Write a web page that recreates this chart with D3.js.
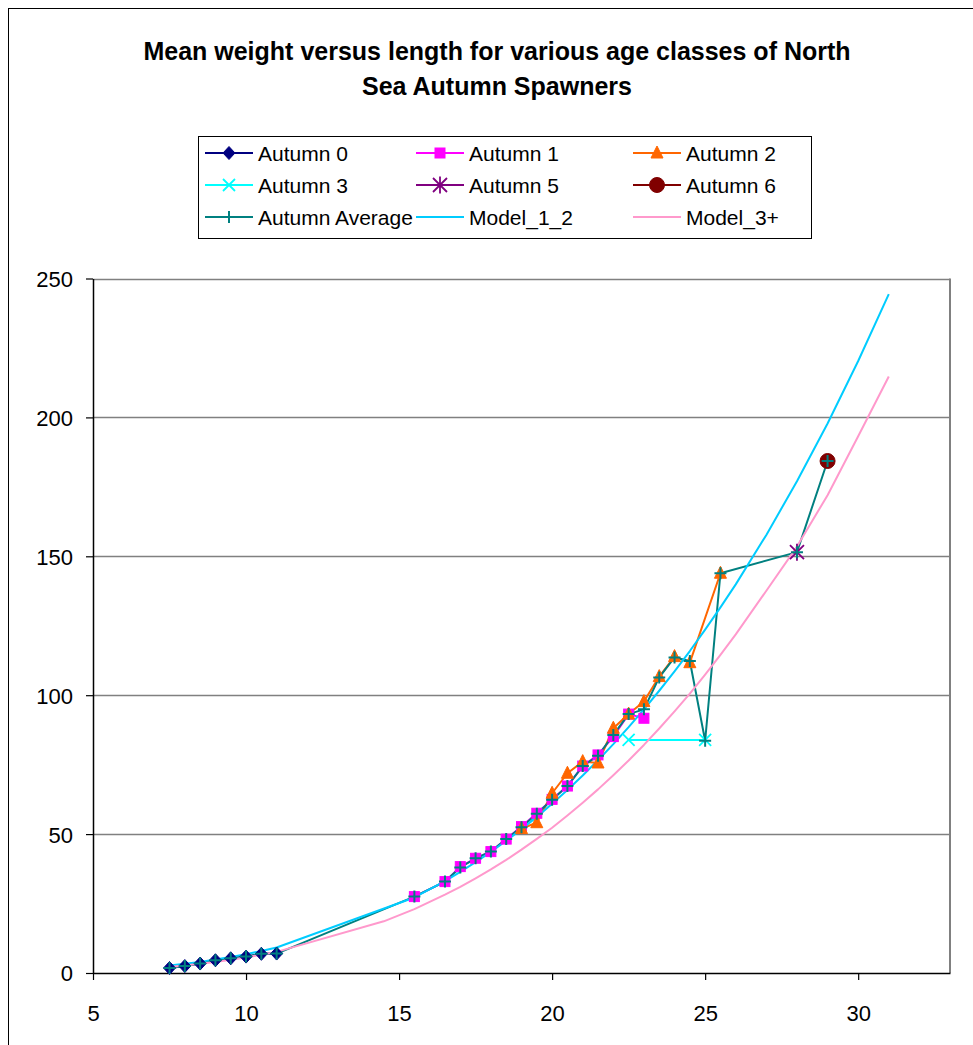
<!DOCTYPE html>
<html>
<head>
<meta charset="utf-8">
<script src="https://cdn.jsdelivr.net/npm/d3@7"></script>
<style>
  body { margin: 0; background: #fff; }
  svg { display: block; font-family: "Liberation Sans", Arial, sans-serif; }
</style>
</head>
<body>
<div id="chart"></div>
<script>
// Chart data (length cm -> mean weight g)
const xTicks = [5, 10, 15, 20, 25, 30];
const yTicks = [0, 50, 100, 150, 200, 250];

const autumn0X = [7.5, 8, 8.5, 9, 9.5, 10, 10.5, 11];
const autumn0Y = [1.8, 2.5, 3.4, 4.6, 5.3, 5.9, 6.9, 7.0];

const autumn1X = [15.5, 16.5, 17, 17.5, 18, 18.5, 19, 19.5, 20, 20.5, 21, 21.5, 22, 22.5, 23];
const autumn1Y = [27.5, 32.9, 38.3, 41.3, 43.7, 48.2, 52.7, 57.5, 62.5, 67.3, 74.5, 78.5, 85.1, 93.2, 91.7];

const autumn2X = [19, 19.5, 20, 20.5, 21, 21.5, 22, 22.5, 23, 23.5, 24, 24.5, 25.5];
const autumn2Y = [52.0, 54.1, 64.7, 71.9, 76.1, 75.6, 88.1, 93.2, 97.7, 106.7, 113.9, 111.7, 143.9];

const autumn3X = [22.5, 25];
const autumn3Y = [83.9, 83.9];

const autumn5X = [28];
const autumn5Y = [151.5];

const autumn6X = [29];
const autumn6Y = [184.3];

const averageX = [7.5, 8, 8.5, 9, 9.5, 10, 10.5, 11, 15.5, 16.5, 17, 17.5, 18, 18.5, 19, 19.5, 20, 20.5, 21, 21.5, 22, 22.5, 23, 23.5, 24, 24.5, 25, 25.5, 28, 29];
const averageY = [1.8, 2.5, 3.4, 4.6, 5.3, 5.9, 6.9, 7.0, 27.5, 32.9, 38.0, 41.3, 43.7, 48.2, 52.5, 57.3, 62.4, 67.3, 74.5, 78.2, 85.7, 93.2, 94.9, 106.4, 113.6, 112.3, 83.6, 143.9, 151.5, 184.3];

const model12X = [7.5, 8, 8.5, 9, 9.5, 10, 10.5, 11, 15.5, 16.5, 17, 17.5, 18, 18.5, 19, 19.5, 20, 20.5, 21, 21.5, 22, 22.5, 23, 23.5, 24, 24.5, 25, 25.5, 26, 27, 28, 29, 30, 31];
const model12Y = [2.7, 3.3, 4.0, 4.9, 5.8, 6.8, 7.9, 9.2, 27.2, 33.1, 36.4, 39.9, 43.6, 47.6, 51.8, 56.2, 60.9, 65.9, 71.1, 76.6, 82.4, 88.5, 94.9, 101.6, 108.6, 115.9, 123.6, 131.6, 139.9, 157.7, 177.0, 197.8, 220.3, 244.4];

const model3X = [7.5, 8, 8.5, 9, 9.5, 10, 10.5, 11, 14.5, 15.5, 16.5, 17, 17.5, 18, 18.5, 19, 19.5, 20, 20.5, 21, 21.5, 22, 22.5, 23, 23.5, 24, 24.5, 25, 25.5, 26, 27, 28, 29, 30, 31];
const model3Y = [2.2, 2.7, 3.3, 4.0, 4.8, 5.6, 6.6, 7.6, 18.6, 23.0, 28.2, 31.0, 34.1, 37.3, 40.7, 44.4, 48.3, 52.3, 56.7, 61.3, 66.1, 71.2, 76.5, 82.1, 88.0, 94.2, 100.6, 107.4, 114.5, 121.9, 137.6, 153.5, 172.0, 193.2, 214.7];

// Series list, drawn in this order
const series = [
  { name: "Autumn 0", xs: autumn0X, ys: autumn0Y, color: "#000080", marker: "diamond" },
  { name: "Autumn 1", xs: autumn1X, ys: autumn1Y, color: "#FF00FF", marker: "square" },
  { name: "Autumn 2", xs: autumn2X, ys: autumn2Y, color: "#FF6600", marker: "triangle" },
  { name: "Autumn 3", xs: autumn3X, ys: autumn3Y, color: "#00FFFF", marker: "cross" },
  { name: "Autumn 5", xs: autumn5X, ys: autumn5Y, color: "#800080", marker: "star" },
  { name: "Autumn 6", xs: autumn6X, ys: autumn6Y, color: "#800000", marker: "circle" },
  { name: "Autumn Average", xs: averageX, ys: averageY, color: "#008080", marker: "plus" },
  { name: "Model_1_2", xs: model12X, ys: model12Y, color: "#00CCFF", marker: null },
  { name: "Model_3+", xs: model3X, ys: model3Y, color: "#FF99CC", marker: null }
];

// Dimensions
const width = 973;
const height = 1045;
const plotLeft = 93;
const plotRight = 950;
const plotTop = 278.5;
const plotBottom = 973;

const svg = d3.select("#chart")
  .append("svg")
  .attr("width", width)
  .attr("height", height);

// Outer chart border (cut off at right / bottom like the original)
svg.append("rect")
  .attr("x", 8.5).attr("y", 8.5)
  .attr("width", width + 20).attr("height", height + 20)
  .attr("fill", "#fff")
  .attr("stroke", "#000")
  .attr("stroke-width", 1);

// Title
svg.append("text")
  .attr("x", 497).attr("y", 60)
  .attr("text-anchor", "middle")
  .attr("font-size", "25px").attr("font-weight", "bold")
  .text("Mean weight versus length for various age classes of North");
svg.append("text")
  .attr("x", 497).attr("y", 95)
  .attr("text-anchor", "middle")
  .attr("font-size", "25px").attr("font-weight", "bold")
  .text("Sea Autumn Spawners");

// Scales
const xScale = d3.scaleLinear().domain([5, 33]).range([plotLeft, plotRight]);
const yScale = d3.scaleLinear().domain([0, 250]).range([plotBottom, plotTop]);

// Gridlines
svg.append("g")
  .selectAll("line")
  .data(yTicks.filter(d => d > 0))
  .enter()
  .append("line")
  .attr("x1", plotLeft).attr("x2", plotRight)
  .attr("y1", d => Math.round(yScale(d)) + 0.5)
  .attr("y2", d => Math.round(yScale(d)) + 0.5)
  .attr("stroke", "#808080")
  .attr("stroke-width", 1.5);

// Right border of plot area
svg.append("line")
  .attr("x1", plotRight).attr("x2", plotRight)
  .attr("y1", plotTop).attr("y2", plotBottom)
  .attr("stroke", "#808080")
  .attr("stroke-width", 2);

// Axes
const xAxisG = svg.append("g")
  .attr("transform", "translate(0," + plotBottom + ")")
  .call(d3.axisBottom(xScale).tickValues(xTicks).tickSize(7).tickPadding(25).tickSizeOuter(0));
const yAxisG = svg.append("g")
  .attr("transform", "translate(" + plotLeft + ",0)")
  .call(d3.axisLeft(yScale).tickValues(yTicks).tickSize(7).tickPadding(13).tickSizeOuter(0));

[xAxisG, yAxisG].forEach(g => {
  g.select(".domain").attr("stroke", "#000").attr("stroke-width", 1.5);
  g.selectAll(".tick line").attr("stroke", "#000").attr("stroke-width", 1.2);
  g.selectAll(".tick text")
    .attr("fill", "#000")
    .attr("font-size", "22px")
    .attr("font-family", "'Liberation Sans', Arial, sans-serif");
});
yAxisG.selectAll(".tick text").attr("dy", "0.36em");

// Marker drawing
function drawMarker(g, type, color) {
  if (type === "diamond") {
    g.append("path").attr("d", "M0,-6.5L6,0L0,6.5L-6,0Z")
      .attr("fill", color).attr("stroke", color);
  } else if (type === "square") {
    g.append("rect").attr("x", -5).attr("y", -5).attr("width", 10).attr("height", 10)
      .attr("fill", color).attr("stroke", color);
  } else if (type === "triangle") {
    g.append("path").attr("d", "M0,-7L6,5L-6,5Z")
      .attr("fill", color).attr("stroke", color);
  } else if (type === "cross") {
    g.append("path").attr("d", "M-6,-6L6,6M-6,6L6,-6")
      .attr("stroke", color).attr("stroke-width", 1.8).attr("fill", "none");
  } else if (type === "star") {
    g.append("path").attr("d", "M-7,-7L7,7M-7,7L7,-7M0,-8.5L0,8.5")
      .attr("stroke", color).attr("stroke-width", 1.8).attr("fill", "none");
  } else if (type === "circle") {
    g.append("circle").attr("r", 7.5).attr("fill", color).attr("stroke", color);
  } else if (type === "plus") {
    g.append("path").attr("d", "M-6,0L6,0M0,-6L0,6")
      .attr("stroke", color).attr("stroke-width", 2).attr("fill", "none");
  }
}

const line = d3.line()
  .x(d => xScale(d[0]))
  .y(d => yScale(d[1]));

// Lines first
series.forEach(s => {
  const pts = s.xs.map((x, i) => [x, s.ys[i]]);
  svg.append("path")
    .datum(pts)
    .attr("d", line)
    .attr("fill", "none")
    .attr("stroke", s.color)
    .attr("stroke-width", 2)
    .attr("stroke-linejoin", "round");
});

// Then markers
series.forEach(s => {
  if (!s.marker) return;
  const pts = s.xs.map((x, i) => [x, s.ys[i]]);
  svg.append("g")
    .selectAll("g")
    .data(pts)
    .enter()
    .append("g")
    .attr("transform", d => "translate(" + xScale(d[0]) + "," + yScale(d[1]) + ")")
    .each(function () { drawMarker(d3.select(this), s.marker, s.color); });
});

// Legend
const legendBox = { x: 198.5, y: 136.5, w: 613, h: 102 };
const legend = svg.append("g");
legend.append("rect")
  .attr("x", legendBox.x).attr("y", legendBox.y)
  .attr("width", legendBox.w).attr("height", legendBox.h)
  .attr("fill", "#fff").attr("stroke", "#000").attr("stroke-width", 1);

const legendCols = [205, 416, 633];
const legendRows = [153, 185, 217];

series.forEach((s, i) => {
  const lx = legendCols[i % 3];
  const ly = legendRows[Math.floor(i / 3)];
  const item = legend.append("g").attr("transform", "translate(" + lx + "," + ly + ")");
  item.append("line")
    .attr("x1", 0).attr("x2", 48)
    .attr("y1", 0).attr("y2", 0)
    .attr("stroke", s.color).attr("stroke-width", 2);
  if (s.marker) {
    const m = item.append("g").attr("transform", "translate(24,0)");
    drawMarker(m, s.marker, s.color);
  }
  item.append("text")
    .attr("x", 53).attr("y", 0)
    .attr("dy", "0.36em")
    .attr("font-size", "21px")
    .attr("fill", "#000")
    .text(s.name);
});
</script>
</body>
</html>
